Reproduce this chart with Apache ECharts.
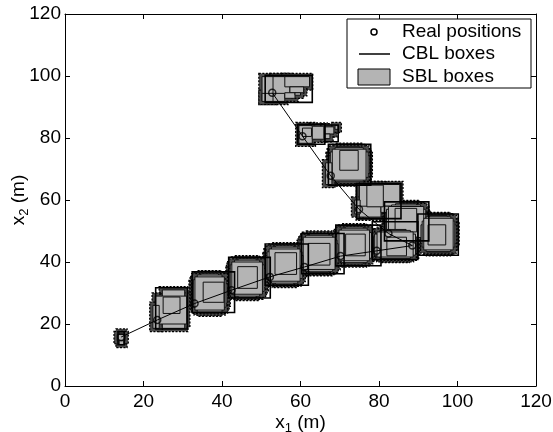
<!DOCTYPE html>
<html>
<head>
<meta charset="utf-8">
<script src="https://cdn.jsdelivr.net/npm/echarts@6/dist/echarts.min.js"></script>
<style>
html,body{margin:0;padding:0;background:#fff;}
#chart{width:553px;height:432px;}
</style>
</head>
<body>
<div id="chart"></div>
<script>
// ---- data (metres) ----
const xTicks = [0, 20, 40, 60, 80, 100, 120];
const yTicks = [0, 20, 40, 60, 80, 100, 120];

// real positions along the trajectory
const realX = [52.8, 60.5, 67.7, 74.9, 82.4, 88.5, 79.4, 70.2, 61.0, 52.2, 42.4, 33.0, 23.5, 14.3];
const realY = [94.6, 80.6, 67.8, 57.0, 49.2, 45.3, 43.6, 41.9, 38.4, 35.2, 30.9, 26.6, 21.3, 15.8];

// CBL boxes: [x1min, x1max, x2min, x2max]
const cblBoxes = [
  [51.0, 63.0, 91.5, 100.2],
  [59.3, 66.2, 78.0, 84.4],
  [66.2, 69.6, 78.8, 84.2],
  [67.1, 77.9, 64.8, 78.0],
  [74.3, 85.6, 54.0, 65.3],
  [81.4, 92.7, 46.8, 59.4],
  [89.9, 100.2, 42.2, 55.5],
  [78.3, 89.9, 40.8, 53.0],
  [69.0, 80.5, 38.8, 51.9],
  [60.3, 71.1, 36.2, 49.2],
  [51.0, 62.0, 32.5, 45.8],
  [41.7, 52.3, 28.4, 41.5],
  [32.4, 43.2, 23.7, 36.8],
  [23.1, 31.2, 18.4, 31.7],
  [13.5, 15.1, 13.3, 17.5]
];

// SBL boxes per step: [x1min, x1max, x2min, x2max]
const sblStep1  = [[50.2,56.0,91.8,99.8],[53.0,57.3,94.4,99.8],[56.0,62.3,96.5,99.8],[57.3,60.8,94.6,96.5],[56.0,58.6,92.8,94.6],[50.2,53.0,91.8,94.4],[58.6,60.0,93.8,94.6]];
const sblStep2  = [[59.6,63.0,78.3,84.0],[63.0,66.0,79.6,83.8],[60.5,62.8,80.5,83.2],[66.0,68.5,81.3,83.6],[66.0,67.5,79.8,81.3],[68.8,69.6,82.8,84.0]];
const sblStep3  = [[69.8,75.0,65.5,77.3],[67.3,77.5,68.5,74.3],[68.8,76.0,65.9,76.9],[67.6,77.2,67.3,75.5],[68.1,76.7,66.4,76.4],[70.0,74.7,69.6,76.0],[66.4,68.0,65.0,72.0]];
const sblStep4  = [[75.0,80.5,54.5,65.0],[75.0,85.3,58.0,65.0],[80.5,83.0,56.0,58.0],[76.9,81.1,57.8,64.8],[73.8,75.2,55.5,60.0]];
const sblStep5  = [[84.2,89.6,47.0,58.8],[81.6,92.2,50.0,55.8],[83.2,90.6,47.4,58.4],[81.9,91.9,48.8,57.0],[82.4,91.4,47.9,57.9],[84.1,89.6,49.7,57.3]];
const sblStep6  = [[92.9,97.4,43.0,55.0],[90.7,99.6,46.0,52.0],[92.0,98.3,43.4,54.6],[91.0,99.3,44.8,53.2],[91.4,98.9,43.9,54.1],[92.5,97.0,45.5,52.0]];
const sblStep7  = [[81.3,86.9,40.8,50.5],[78.6,89.6,43.2,48.1],[80.2,88.0,41.1,50.2],[78.9,89.3,42.2,49.0],[79.5,88.7,41.6,49.7],[82.0,87.0,42.0,48.0]];
const sblStep8  = [[71.4,76.0,39.4,51.3],[69.0,78.4,42.4,48.3],[70.4,77.0,39.8,50.9],[69.3,78.1,41.2,49.5],[69.8,77.6,40.4,50.3],[71.5,76.5,42.0,49.0]];
const sblStep9  = [[62.3,67.2,36.6,49.0],[59.9,69.6,39.7,45.9],[61.3,68.2,37.0,48.6],[60.2,69.3,38.5,47.1],[60.7,68.8,37.6,48.0],[62.0,67.5,39.0,46.0]];
const sblStep10 = [[53.6,58.3,32.8,45.2],[51.2,60.7,35.9,42.1],[52.6,59.3,33.2,44.8],[51.5,60.4,34.7,43.3],[52.0,59.9,33.8,44.2],[53.5,59.0,36.0,43.0]];
const sblStep11 = [[44.1,48.7,28.6,41.0],[41.8,51.0,31.7,37.9],[43.2,49.6,29.0,40.6],[42.1,50.7,30.5,39.1],[42.5,50.3,29.6,40.0],[44.0,49.0,31.5,38.5]];
const sblStep12 = [[34.6,39.1,23.5,36.2],[32.4,41.3,26.7,33.0],[33.7,40.0,23.9,35.8],[32.7,41.0,25.4,34.3],[33.1,40.6,24.5,35.2],[35.2,40.5,27.0,33.5]];
const sblStep13 = [[24.8,30.5,18.6,31.0],[23.0,31.0,20.0,29.0],[25.0,29.3,23.4,28.7],[22.4,24.0,18.6,26.0]];
const sblStep14 = [[13.8,15.0,13.4,17.4],[13.3,15.3,14.6,16.6]];

const sblSteps = [sblStep1, sblStep2, sblStep3, sblStep4, sblStep5, sblStep6, sblStep7,
                  sblStep8, sblStep9, sblStep10, sblStep11, sblStep12, sblStep13, sblStep14];

// ---- chart ----
const FONT = 'Liberation Sans, Arial, Helvetica, sans-serif';
const FS = 19;
const chart = echarts.init(document.getElementById('chart'), null, {renderer: 'canvas'});

const sblData = [];
sblSteps.forEach(function (step) { step.forEach(function (b) { sblData.push(b); }); });
const pathData = realX.map(function (x, i) { return [x, realY[i]]; });

function rectItem(api, grow) {
  const p0 = api.coord([api.value(0), api.value(3)]);
  const p1 = api.coord([api.value(1), api.value(2)]);
  return {
    x: p0[0] - grow, y: p0[1] - grow,
    width: p1[0] - p0[0] + 2 * grow, height: p1[1] - p0[1] + 2 * grow
  };
}

const labelStyle = {color: '#000', fontFamily: FONT, fontSize: FS};
const lineCommon = {onZero: false, lineStyle: {color: '#000', width: 1}};
const tickCommon = {inside: true, length: 5, lineStyle: {color: '#000'}};
const nameRich = {
  t: {fontFamily: FONT, fontSize: FS, color: '#000'},
  s: {fontFamily: FONT, fontSize: 13, color: '#000', padding: [12, 0, 0, 0]}
};

const option = {
  backgroundColor: '#fff',
  animation: false,
  grid: {left: 65, right: 17, top: 14, bottom: 46, containLabel: false, outerBoundsMode: 'none'},
  xAxis: [{
    type: 'value', min: 0, max: 120, interval: 20, position: 'bottom',
    axisLine: lineCommon, axisTick: tickCommon,
    axisLabel: Object.assign({margin: 6, formatter: function (v) { return xTicks.indexOf(v) >= 0 ? String(v) : ''; }}, labelStyle),
    splitLine: {show: false},
    name: '{t|x}{s|1}{t| (m)}', nameLocation: 'middle', nameGap: 24, nameMoveOverlap: false,
    nameTextStyle: {rich: nameRich}
  }, {
    type: 'value', min: 0, max: 120, interval: 20, position: 'top',
    axisLine: lineCommon, axisTick: tickCommon,
    axisLabel: {show: false}, splitLine: {show: false}
  }],
  yAxis: [{
    type: 'value', min: 0, max: 120, interval: 20, position: 'left',
    axisLine: lineCommon, axisTick: tickCommon,
    axisLabel: Object.assign({margin: 4, formatter: function (v) { return yTicks.indexOf(v) >= 0 ? String(v) : ''; }}, labelStyle),
    splitLine: {show: false},
    name: '{t|x}{s|2}{t| (m)}', nameLocation: 'middle', nameGap: 34, nameRotate: 90, nameMoveOverlap: false,
    nameTextStyle: {rich: nameRich}
  }, {
    type: 'value', min: 0, max: 120, interval: 20, position: 'right',
    axisLine: lineCommon, axisTick: tickCommon,
    axisLabel: {show: false}, splitLine: {show: false}
  }],
  series: [
    { // dark fringe of the small SBL cells
      type: 'custom', name: 'SBL fringe', z: 1, silent: true,
      data: sblData,
      encode: {x: [0, 1], y: [2, 3]},
      renderItem: function (params, api) {
        return {type: 'rect', shape: rectItem(api, 3.2),
          style: {fill: '#4a4a4a', stroke: '#000', lineWidth: 1.3, lineDash: [2, 1.5]}};
      }
    },
    { // SBL boxes
      type: 'custom', name: 'SBL boxes', z: 2,
      data: sblData,
      encode: {x: [0, 1], y: [2, 3]},
      renderItem: function (params, api) {
        return {type: 'rect', shape: rectItem(api, 0),
          style: {fill: '#b4b4b4', stroke: '#111', lineWidth: 1}};
      }
    },
    { // CBL boxes
      type: 'custom', name: 'CBL boxes', z: 3,
      data: cblBoxes,
      encode: {x: [0, 1], y: [2, 3]},
      renderItem: function (params, api) {
        return {type: 'rect', shape: rectItem(api, 0),
          style: {fill: 'none', stroke: '#000', lineWidth: 1.6}};
      }
    },
    {
      type: 'line', name: 'path', z: 4, data: pathData,
      showSymbol: false, lineStyle: {color: '#000', width: 1}
    },
    {
      type: 'scatter', name: 'Real positions', z: 5, data: pathData,
      symbol: 'circle', symbolSize: 7,
      itemStyle: {color: 'rgba(0,0,0,0)', borderColor: '#000', borderWidth: 1.5}
    }
  ],
  graphic: [
    {type: 'rect', z: 100, shape: {x: 347, y: 19, width: 184, height: 69},
      style: {fill: '#fff', stroke: '#000', lineWidth: 1}},
    {type: 'circle', z: 101, shape: {cx: 374, cy: 32, r: 3},
      style: {fill: 'none', stroke: '#000', lineWidth: 1.5}},
    {type: 'line', z: 101, shape: {x1: 359, y1: 54, x2: 390, y2: 54},
      style: {stroke: '#000', lineWidth: 1.5}},
    {type: 'rect', z: 101, shape: {x: 358, y: 69, width: 32, height: 16},
      style: {fill: '#b4b4b4', stroke: '#000', lineWidth: 1}},
    {type: 'text', z: 101, x: 402, y: 32,
      style: {text: 'Real positions', fontFamily: FONT, fontSize: FS, fill: '#000', verticalAlign: 'middle'}},
    {type: 'text', z: 101, x: 402, y: 54,
      style: {text: 'CBL boxes', fontFamily: FONT, fontSize: FS, fill: '#000', verticalAlign: 'middle'}},
    {type: 'text', z: 101, x: 402, y: 77,
      style: {text: 'SBL boxes', fontFamily: FONT, fontSize: FS, fill: '#000', verticalAlign: 'middle'}}
  ]
};
chart.setOption(option);
</script>
</body>
</html>
